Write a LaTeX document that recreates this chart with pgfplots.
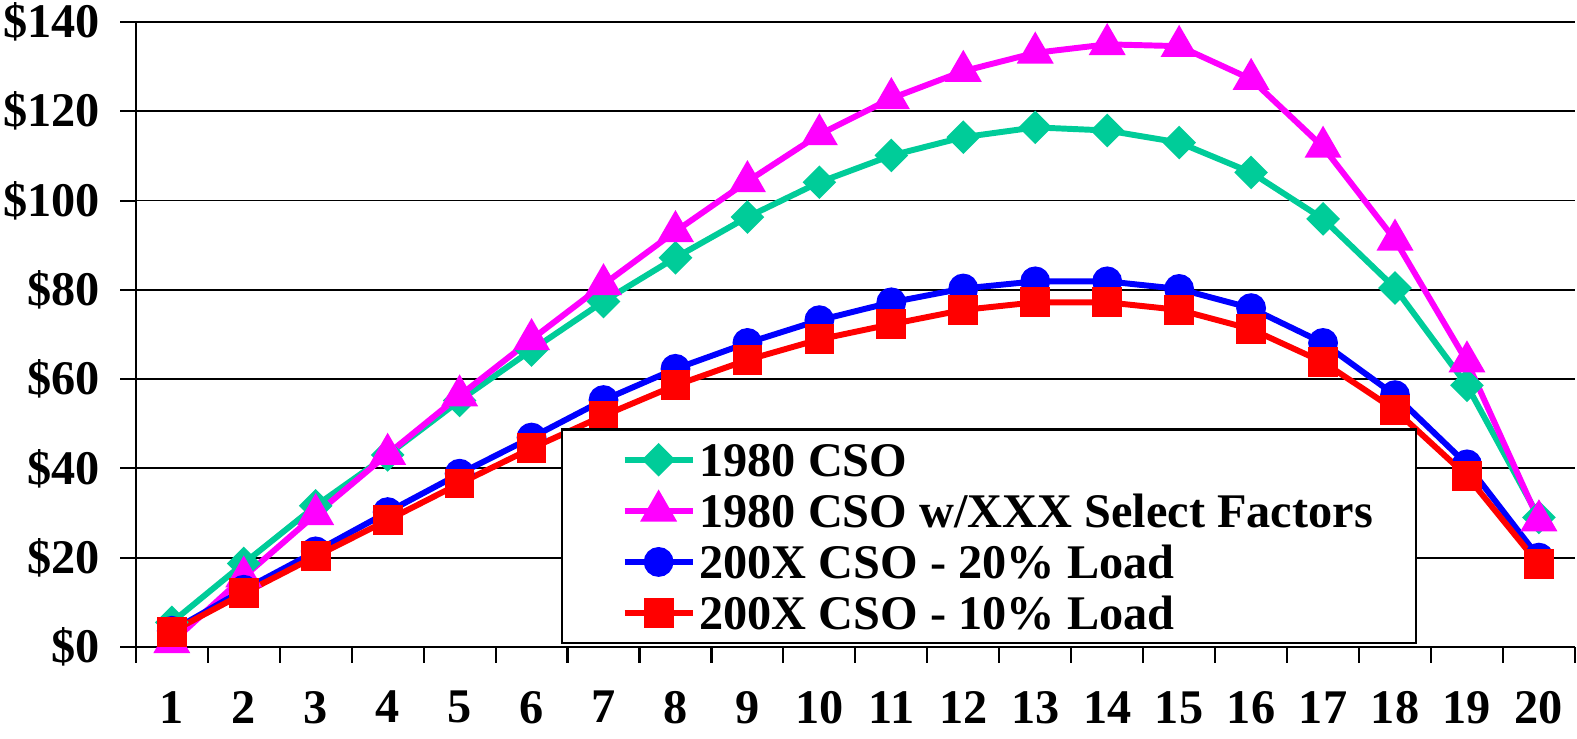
\documentclass[border=0pt]{standalone}
\usepackage{pgfplots}
\pgfplotsset{compat=1.18}
\usepackage{fontspec}
\setmainfont{Liberation Serif}
\definecolor{cteal}{RGB}{0,204,153}
\definecolor{cmag}{RGB}{255,0,255}
\definecolor{cblue}{RGB}{0,0,255}
\definecolor{cred}{RGB}{255,0,0}
\begin{document}
\begin{tikzpicture}
\useasboundingbox (-38.8pt,-26.1pt) rectangle (411.7pt,184.8pt);
\begin{axis}[
  scale only axis, width=411.1pt, height=178.5pt,
  at={(0pt,0pt)}, anchor=south west,
  xmin=0.5, xmax=20.5, ymin=0, ymax=140,
  clip=false,
  axis x line*=bottom, axis y line*=left,
  axis line style={line width=0.6pt, black},
  xtick={1,...,20},
  minor xtick={0.5,1.5,...,20.5},
  ytick={0,20,40,60,80,100,120,140},
  yticklabels={\$0,\$20,\$40,\$60,\$80,\$100,\$120,\$140},
  /pgf/number format/assume math mode=true,
  tick align=outside,
  major tick length=4.5pt, minor tick length=4.5pt,
  tick style={black, line width=0.6pt},
  major x tick style={draw=none},
  ymajorgrids, major grid style={black, line width=0.5pt},
  ticklabel style={font=\bfseries\fontsize{13.8}{14}\selectfont},
  xticklabel style={anchor=north, yshift=-4.6pt},
  yticklabel style={anchor=east, xshift=-2.2pt},
  legend cell align=left,
  legend style={at={(0.2953,0.004)}, anchor=south west, draw=black, line width=0.6pt,
    inner xsep=12.4pt, inner ysep=4pt, row sep=5.3pt,
    font=\bfseries\fontsize{13.8}{14}\selectfont,
    nodes={inner sep=0pt, text height=9.3pt, text depth=0pt}},
  legend image code/.code={
    \path (-4.7pt,0pt);
    \draw[mark repeat=2, mark phase=2, #1] plot coordinates {(0pt,0pt) (9.7pt,0pt) (19.4pt,0pt)};
    \path (20.5pt,0pt);
  },
]
\addplot[color=cteal, line width=1.7pt, mark=square*, mark size=2.55pt, mark options={rotate=45, solid}] coordinates {
(1,5.5) (2,18.7) (3,31.6) (4,43.0) (5,55.2) (6,66.5) (7,77.4) (8,87.2) (9,96.3) (10,104.1)
(11,110.1) (12,114.2) (13,116.4) (14,115.7) (15,113.0) (16,106.3) (17,95.9) (18,80.4) (19,58.6) (20,29.0)};
\addlegendentry{1980 CSO}
\addplot[color=cmag, line width=1.7pt, mark=triangle*, mark size=4.4pt, mark options={solid}] coordinates {
(1,1.0) (2,15.7) (3,29.7) (4,43.2) (5,56.3) (6,68.9) (7,81.2) (8,93.1) (9,104.3) (10,114.8)
(11,122.9) (12,129.0) (13,133.1) (14,135.0) (15,134.6) (16,127.2) (17,112.0) (18,91.2) (19,63.9) (20,28.3)};
\addlegendentry{1980 CSO w/XXX Select Factors}
\addplot[color=cblue, line width=1.7pt, mark=*, mark size=3.4pt, mark options={solid}] coordinates {
(1,3.6) (2,12.8) (3,21.4) (4,30.2) (5,38.8) (6,46.9) (7,55.3) (8,62.3) (9,68.1) (10,73.2)
(11,77.2) (12,80.3) (13,81.9) (14,81.9) (15,80.2) (16,75.9) (17,68.1) (18,56.4) (19,40.9) (20,20.0)};
\addlegendentry{200X CSO - 20\% Load}
\addplot[color=cred, line width=1.7pt, mark=square*, mark size=3.4pt, mark options={solid}] coordinates {
(1,3.4) (2,12.0) (3,20.3) (4,28.4) (5,36.6) (6,44.5) (7,51.8) (8,58.6) (9,64.3) (10,68.9)
(11,72.3) (12,75.5) (13,77.2) (14,77.2) (15,75.5) (16,71.2) (17,63.8) (18,53.1) (19,38.3) (20,18.5)};
\addlegendentry{200X CSO - 10\% Load}
\end{axis}
\end{tikzpicture}
\end{document}
